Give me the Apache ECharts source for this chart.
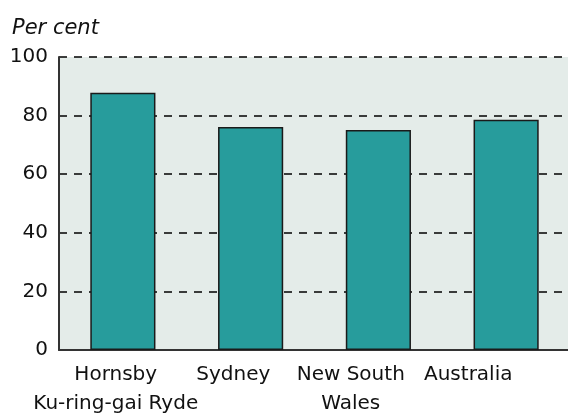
<!DOCTYPE html>
<html>
<head>
<meta charset="utf-8">
<script src="https://cdn.jsdelivr.net/npm/echarts@6/dist/echarts.min.js"></script>
<style>html,body{margin:0;padding:0;background:#fff}#c{width:568px;height:415px}</style>
</head>
<body>
<div id="c"></div>
<script>
const categories = ['Hornsby\nKu-ring-gai Ryde', 'Sydney', 'New South\nWales', 'Australia'];
const values = [87.8, 76.1, 75.1, 78.6];
const yTicks = [0, 20, 40, 60, 80, 100];

const FONT = 'DejaVu Sans';
const chart = echarts.init(document.getElementById('c'), null, {renderer: 'canvas'});
chart.setOption({
  animation: false,
  backgroundColor: '#ffffff',
  title: {
    text: 'Per cent', left: 7, top: 13,
    textStyle: {fontFamily: FONT, fontStyle: 'italic', fontWeight: 'normal', fontSize: 21, color: '#111'}
  },
  grid: [
    {left: 59, right: -2, top: 57, bottom: 65, show: true, backgroundColor: '#e4ece9', borderWidth: 0, outerBoundsMode: 'none', containLabel: false},
    {left: 57, right: 41, top: 57, bottom: 65, show: false, outerBoundsMode: 'none', containLabel: false}
  ],
  xAxis: [
    {
      type: 'category', data: categories, gridIndex: 0,
      axisLine: {show: true, lineStyle: {color: '#333', width: 2}},
      axisTick: {show: false},
      axisLabel: {show: false}
    },
    {
      type: 'category', data: categories, gridIndex: 1,
      axisLine: {show: false}, axisTick: {show: false},
      axisLabel: {show: true, interval: 0, margin: 10, fontFamily: FONT, fontSize: 20, lineHeight: 29, color: '#111', align: 'center'}
    }
  ],
  yAxis: [
    {
      type: 'value', gridIndex: 0, min: yTicks[0], max: yTicks[yTicks.length - 1], interval: 20,
      axisLine: {show: true, lineStyle: {color: '#333', width: 2}},
      axisTick: {show: false},
      axisLabel: {fontFamily: FONT, fontSize: 20, color: '#111', margin: 11},
      splitLine: {show: true, lineStyle: {color: '#000', width: 1.5, type: [8, 7]}}
    },
    {
      type: 'value', gridIndex: 1, min: 0, max: 100, show: false
    }
  ],
  series: [{
    type: 'bar', xAxisIndex: 0, yAxisIndex: 0, data: values,
    barWidth: '51%',
    itemStyle: {color: '#279c9c', borderColor: '#1a1a1a', borderWidth: 1.5}
  }]
});
</script>
</body>
</html>
